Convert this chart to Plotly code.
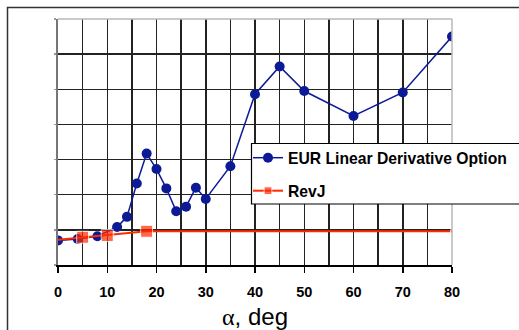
import plotly.graph_objects as go

# Data
eur_alpha = [0, 4, 8, 12, 14, 16, 18, 20, 22, 24, 26, 28, 30, 35, 40, 45, 50, 60, 70, 80]
eur_value = [0.70, 0.74, 0.82, 1.08, 1.37, 2.32, 3.17, 2.73, 2.18, 1.53, 1.66, 2.20, 1.88, 2.81, 4.86, 5.65, 4.95, 4.24, 4.91, 6.50]

revj_alpha = [0, 5, 10, 18, 80]
revj_value = [0.72, 0.79, 0.84, 0.96, 0.96]
revj_marker = [0, 12, 12, 12, 3]

x_ticks = [0, 10, 20, 30, 40, 50, 60, 70, 80]
y_ticks = [0, 1, 2, 3, 4, 5, 6, 7]

FONT = "Liberation Sans, Arial, sans-serif"
BLUE = "#0c1a96"
RED = "#ff2a00"

fig = go.Figure()
fig.add_trace(go.Scatter(
    x=eur_alpha, y=eur_value, mode="lines+markers",
    name="<b>EUR Linear Derivative Option</b>",
    line=dict(color=BLUE, width=1.5),
    marker=dict(symbol="circle", size=10, color=BLUE),
    legend="legend",
))
fig.add_trace(go.Scatter(
    x=revj_alpha, y=revj_value, mode="lines+markers",
    name="<b>RevJ</b>",
    line=dict(color=RED, width=2),
    marker=dict(symbol="square", size=revj_marker, color=RED),
    legend="legend2",
))

W, H = 519, 330
PL, PR, PT, PB = 58, 452, 19, 265   # plot area in page pixels
pw = PR - PL
ph = PB - PT

def px_x(p):
    return (p - PL) / pw

def px_y(p):
    return (PB - p) / ph

fig.update_layout(
    width=W, height=H,
    margin=dict(l=PL, r=W - PR, t=PT, b=H - PB, autoexpand=False),
    paper_bgcolor="white", plot_bgcolor="white",
    font=dict(family=FONT, color="black"),
    hovermode=False,
    showlegend=True,
    legend=dict(x=px_x(248), y=px_y(158), xanchor="left", yanchor="middle",
                bgcolor="rgba(0,0,0,0)", borderwidth=0,
                font=dict(size=15.7, family=FONT, color="black")),
    legend2=dict(x=px_x(248), y=px_y(191), xanchor="left", yanchor="middle",
                 bgcolor="rgba(0,0,0,0)", borderwidth=0,
                 font=dict(size=15.7, family=FONT, color="black")),
    xaxis=dict(
        range=[0, 80], tickvals=x_ticks, ticktext=[str(v) for v in x_ticks],
        ticks="outside", ticklen=6, tickwidth=1.5, tickcolor="black",
        ticklabelstandoff=7, automargin=False,
        showline=True, linecolor="black", linewidth=1.5,
        showgrid=True, gridcolor="#222", gridwidth=1.5,
        minor=dict(dtick=5, showgrid=True, gridcolor="#222", gridwidth=1.5),
        tickfont=dict(size=14.5, family=FONT, color="black", weight="bold"),
        zeroline=False,
        title=dict(text="<span style='font-family:Liberation Serif'>α</span>, deg",
                   font=dict(size=24, family=FONT, color="black"), standoff=16),
    ),
    yaxis=dict(
        range=[0, 7], tickvals=y_ticks, showticklabels=False, automargin=False,
        ticks="outside", ticklen=2, tickwidth=1.5, tickcolor="#999",
        showline=True, linecolor="#777", linewidth=2,
        showgrid=True, gridcolor="#222", gridwidth=1.5,
        zeroline=False,
    ),
    shapes=[
        # outer chart frame
        dict(type="rect", xref="paper", yref="paper",
             x0=px_x(7.5), x1=px_x(560), y0=px_y(400), y1=px_y(7.5),
             line=dict(color="#333", width=1.5), fillcolor="rgba(0,0,0,0)", layer="below"),
        # top and right plot borders (light gray)
        dict(type="line", xref="paper", yref="paper", x0=0, x1=1, y0=1, y1=1,
             line=dict(color="#b8b8b8", width=1.5), layer="above"),
        dict(type="line", xref="paper", yref="paper", x0=1, x1=1, y0=0, y1=1,
             line=dict(color="#b8b8b8", width=1.5), layer="above"),
        # legend box
        dict(type="rect", xref="paper", yref="paper",
             x0=px_x(251.5), x1=px_x(560), y0=px_y(204), y1=px_y(143.5),
             line=dict(color="black", width=1.2), fillcolor="white", layer="above"),
    ],
)

fig.write_html("out.html",
               config={"displayModeBar": False, "staticPlot": True},
               post_script="document.body.style.margin='0';document.body.style.overflow='hidden';")
